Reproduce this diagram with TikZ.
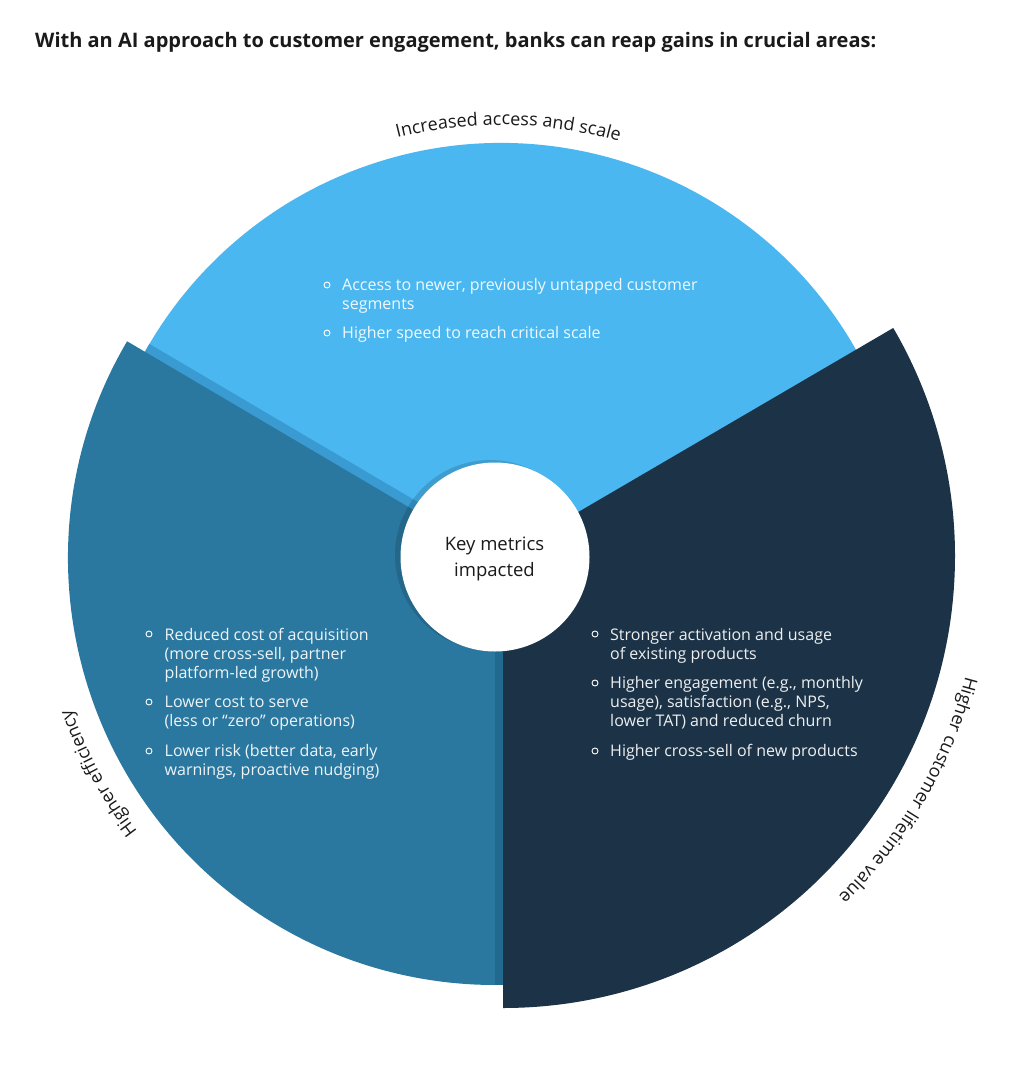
\documentclass[tikz,border=0pt]{standalone}
\usepackage{fontspec}
\setmainfont{Open Sans}
\usetikzlibrary{decorations.text}
\definecolor{lightb}{RGB}{74,183,240}
\definecolor{lightsh}{RGB}{58,155,210}
\definecolor{midb}{RGB}{42,120,160}
\definecolor{midsh}{RGB}{34,105,143}
\definecolor{navyb}{RGB}{28,51,71}
\definecolor{ink}{RGB}{26,26,26}
\begin{document}
\begin{tikzpicture}[x=1pt,y=1pt,
  bodytxt/.style={anchor=base west, inner sep=0, font=\fontsize{16}{19}\selectfont, text=white, text opacity=0.92},
  bul/.style={circle, draw=white, line width=0.9pt, minimum size=6pt, inner sep=0},
  hubtxt/.style={anchor=base, inner sep=0, font=\fontsize{18.5}{22}\selectfont, text=ink},
  arclabel/.style={decorate, decoration={text along path, text align=center, text color=ink}}]
\fill[white] (0,0) rectangle (1024,-1070);
\useasboundingbox (0,0) rectangle (1024,-1070);

\coordinate (L) at (501,-551);
\coordinate (M) at (495,-558);
\coordinate (N) at (503,-556);
\coordinate (C) at (495,-557);

% light blue sector
\fill[lightb] (L) -- ++(20:408) arc[start angle=20,end angle=160,radius=408] -- cycle;
\begin{scope}
  \clip (L) -- ++(20:408) arc[start angle=20,end angle=160,radius=408] -- cycle;
  \fill[lightsh] ([shift={(4.6,7.8)}]M) -- ++(149.5:427) arc[start angle=149.5,end angle=285,radius=427] -- cycle;
\end{scope}
% mid blue sector
\fill[midb] (M) -- ++(149.5:427) arc[start angle=149.5,end angle=285,radius=427] -- cycle;
\begin{scope}
  \clip (M) -- ++(149.5:427) arc[start angle=149.5,end angle=285,radius=427] -- cycle;
  \fill[midsh] ([shift={(-8,0)}]N) -- ++(-90:452) arc[start angle=-90,end angle=30.3,radius=452] -- cycle;
\end{scope}
% navy sector
\fill[navyb] (N) -- ++(-90:452) arc[start angle=-90,end angle=30.3,radius=452] -- cycle;

% hub
\fill[black, opacity=0.14] (490,-555) circle[radius=95];
\node[circle, fill=white, minimum size=189pt, inner sep=0] (hub) at (C) {};
\node[hubtxt] (k1) at (494.5,-550) {Key metrics};
\node[hubtxt] (k2) at (494.5,-576.5) {impacted};

% title
\node[anchor=base west, inner sep=0, font=\fontsize{20}{24}\selectfont\bfseries, text=ink] (title) at (35,-48) {With an AI approach to customer engagement, banks can reap gains in crucial areas:};

% arc labels
\path[arclabel, decoration={text={|\fontsize{18}{22}\selectfont|Increased access and scale}}]
  ([shift={(119:426)}]L) arc[start angle=119,end angle=59,radius=426];
\path[arclabel, decoration={text={|\fontsize{18}{22}\selectfont|Higher efficiency}}]
  ([shift={(238.5:450)}]M) arc[start angle=238.5,end angle=178.5,radius=450];
\path[arclabel, decoration={text={|\fontsize{18}{22}\selectfont|Higher customer lifetime value}}]
  ([shift={(0:478)}]N) arc[start angle=0,end angle=-60,radius=478];

% light blue bullets
\node[bul] (ba1) at (327,-285) {};
\node[bodytxt] (ta1) at (342,-290) {Access to newer, previously untapped customer};
\node[bodytxt] (ta2) at (342,-309) {segments};
\node[bul] (ba2) at (327,-333) {};
\node[bodytxt] (ta3) at (342,-338) {Higher speed to reach critical scale};

% mid blue bullets
\node[bul] (bb1) at (149,-634) {};
\node[bodytxt] (tb1) at (164.5,-640) {Reduced cost of acquisition};
\node[bodytxt] (tb2) at (164.5,-659) {(more cross-sell, partner};
\node[bodytxt] (tb3) at (164.5,-678) {platform-led growth)};
\node[bul] (bb2) at (149,-702) {};
\node[bodytxt] (tb4) at (164.5,-707) {Lower cost to serve};
\node[bodytxt] (tb5) at (164.5,-726) {(less or “zero” operations)};
\node[bul] (bb3) at (149,-751) {};
\node[bodytxt] (tb6) at (164.5,-756) {Lower risk (better data, early};
\node[bodytxt] (tb7) at (164.5,-775) {warnings, proactive nudging)};

% navy bullets
\node[bul] (bc1) at (595,-634) {};
\node[bodytxt] (tc1) at (610,-640) {Stronger activation and usage};
\node[bodytxt] (tc2) at (610,-659) {of existing products};
\node[bul] (bc2) at (595,-683) {};
\node[bodytxt] (tc3) at (610,-688) {Higher engagement (e.g., monthly};
\node[bodytxt] (tc4) at (610,-707) {usage), satisfaction (e.g., NPS,};
\node[bodytxt] (tc5) at (610,-726) {lower TAT) and reduced churn};
\node[bul] (bc3) at (595,-751) {};
\node[bodytxt] (tc6) at (610,-756) {Higher cross-sell of new products};
\end{tikzpicture}
\end{document}
